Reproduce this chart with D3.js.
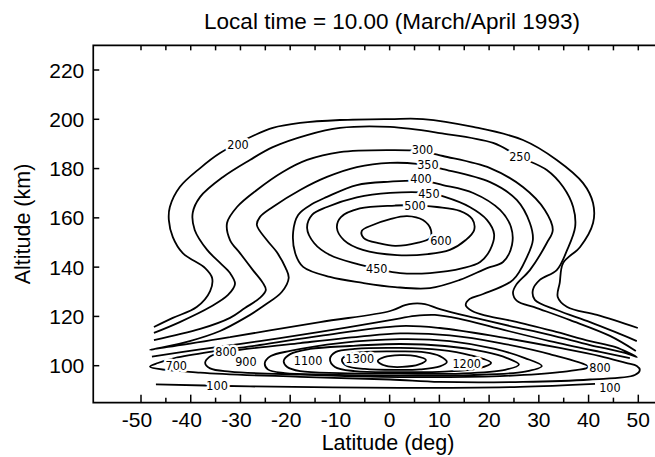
<!DOCTYPE html>
<html>
<head>
<meta charset="utf-8">
<script src="https://cdn.jsdelivr.net/npm/d3@7"></script>
<style>
body { margin: 0; background: #fff; }
svg { display: block; }
.txt { font-family: "Liberation Sans", Arial, Helvetica, sans-serif; fill: #000; }
.clabel { font-family: "DejaVu Sans Condensed", "DejaVu Sans", sans-serif; font-stretch: condensed;
  font-size: 12.5px; fill: #000; stroke: #fff; stroke-width: 5px; paint-order: stroke; stroke-linejoin: round; }
</style>
</head>
<body>
<div id="chart"></div>
<script>

/// values: [latitude (deg), altitude (km)]

const latMajor = [-50, -40, -30, -20, -10, 0, 10, 20, 30, 40, 50];
const latMinor = [-45, -35, -25, -15, -5, 5, 15, 25, 35, 45];
const latTop = [-50, -45, -40, -35, -30, -25, -20, -15, -10, -5, 0, 5, 10, 15, 20, 25, 30, 35, 40, 45, 50];
const altTicks = [100, 120, 140, 160, 180, 200, 220];
const latExtent = [-59.6, 62];
const altExtent = [85, 230];

// open lines (upper region, S shaped on both flanks)
const c200 = [[-47.4,115.7],[-43.6,119.4],[-38.8,123.8],[-36.1,130.3],[-35.7,135.6],[-37.1,139.6],[-41.6,145.7],[-43.6,152.2],[-44.4,159.1],[-44.2,164.4],[-42.2,172.5],[-38.1,180.2],[-34.1,186.3],[-27.1,193.6],[-23.5,196.5],[-18.0,198.5],[-10.0,199.7],[0.1,200.1],[6.7,200.1],[16.8,196.9],[26.8,191.6],[33.6,183.5],[38.9,174.1],[40.9,166.0],[40.9,157.9],[38.3,148.2],[34.9,141.7],[34.2,133.6],[33.8,127.9],[35.7,123.8],[41.7,120.6],[49.9,115.3]];
const c250 = [[-47.4,113.3],[-42.2,117.7],[-36.1,123.8],[-32.5,128.7],[-31.1,133.2],[-32.1,137.6],[-34.1,141.7],[-36.7,147.0],[-39.2,155.1],[-39.6,162.0],[-38.1,168.5],[-33.5,176.6],[-28.1,183.5],[-23.5,188.7],[-16.6,193.6],[-10.0,196.5],[0.1,196.9],[10.1,194.4],[20.8,190.4],[26.2,184.7],[31.6,179.4],[34.9,172.5],[36.9,164.4],[37.3,156.3],[35.7,147.0],[33.6,138.8],[30.2,134.8],[28.8,130.7],[29.2,126.7],[33.6,122.6],[40.3,117.7],[45.3,113.7],[49.7,110.0]];
const c300 = [[-47.4,110.4],[-38.1,114.9],[-32.1,119.4],[-29.1,123.4],[-26.1,127.5],[-24.9,130.7],[-25.5,133.6],[-27.5,138.8],[-30.1,145.7],[-32.1,151.0],[-32.7,157.9],[-30.7,164.4],[-26.7,171.3],[-21.5,178.6],[-16.6,183.5],[-10.0,186.7],[0.1,187.5],[6.1,187.1],[10.7,185.1],[20.2,180.2],[26.8,172.5],[31.2,163.2],[32.8,155.1],[31.6,149.8],[28.2,138.8],[25.4,132.7],[24.8,129.5],[25.6,126.3],[29.6,123.4],[36.3,118.5],[44.3,112.1],[49.5,106.0]];
// 350 runs along the top of the lower region and closes round the saddle
const c350 = [[-48.2,106.4],[-32.1,111.6],[-14.0,117.7],[0.1,122.2],[3.1,124.6],[4.7,125.2],[7.1,125.0],[10.1,123.0],[17.2,119.4],[24.2,116.1],[32.2,112.5],[40.3,108.4],[47.3,105.2],[49.7,103.5],[45.3,107.6],[40.3,110.0],[32.8,114.1],[24.8,118.1],[19.6,120.2],[16.6,122.2],[15.3,124.6],[16.1,127.1],[18.8,129.1],[24.8,134.8],[27.6,144.1],[28.8,151.0],[28.2,157.9],[25.6,167.2],[20.2,174.5],[10.7,179.8],[5.5,181.9],[0.1,182.3],[-6.6,180.6],[-12.6,176.6],[-18.0,171.3],[-23.5,164.4],[-26.1,160.3],[-26.7,157.1],[-24.7,151.0],[-22.7,146.1],[-20.9,139.6],[-20.3,135.6],[-21.7,129.9],[-25.1,124.6],[-29.1,119.4],[-34.1,114.1],[-40.2,110.0],[-46.2,107.2]];

// closed rings round the upper maximum
const ring400 = [[0.1,174.7],[6.7,175.0],[10.7,173.3],[16.8,170.1],[22.2,163.2],[24.4,156.3],[24.6,149.0],[22.8,142.1],[19.6,139.6],[14.1,134.8],[8.1,131.5],[1.1,131.9],[-5.4,133.6],[-12.0,136.0],[-17.4,140.1],[-19.0,145.7],[-19.4,154.3],[-18.4,161.2],[-15.6,165.6],[-12.6,168.5],[-6.6,173.3]];
const ring450 = [[0.1,170.1],[7.7,170.1],[11.1,168.5],[16.1,164.4],[19.6,159.1],[21.0,153.4],[20.2,147.0],[18.2,142.1],[14.7,139.6],[8.1,137.6],[2.1,137.6],[-2.6,139.4],[-6.6,141.3],[-12.0,144.9],[-15.2,149.8],[-16.6,155.9],[-15.6,161.2],[-12.6,164.4],[-6.6,168.3]];
const ring500 = [[1.1,165.0],[5.1,165.2],[9.5,164.4],[14.1,162.8],[16.6,159.5],[17.0,155.1],[15.3,151.0],[12.1,147.0],[7.7,145.3],[1.5,144.9],[-5.4,147.0],[-9.2,151.0],[-10.6,155.9],[-9.8,160.3],[-6.0,163.8]];
const ring600 = [[-3.4,157.1],[0.1,159.5],[3.5,160.7],[6.7,159.1],[8.3,155.1],[8.1,151.8],[5.5,149.8],[1.1,148.6],[-2.0,149.6],[-5.2,151.8],[-5.6,154.7]];

// lower region
const wedge = [[-47.8,103.7],[-38.1,106.6],[-26.1,110.0],[-14.0,113.7],[0.1,118.5],[5.1,120.2],[9.1,120.6],[14.1,119.0],[22.2,114.9],[32.2,110.0],[42.3,105.6],[48.3,103.1]];
const loop700 = [[-48.2,99.6],[-46.6,101.1],[-43.2,103.1],[-35.5,105.8],[-26.1,108.4],[-14.0,112.1],[2.1,116.1],[10.1,115.3],[22.2,111.6],[34.2,107.2],[42.3,103.9],[47.5,101.1],[49.7,99.9],[50.3,98.3],[49.3,96.2],[40.3,94.4],[26.8,93.4],[10.1,93.4],[0.1,94.4],[-18.0,95.5],[-38.1,97.2]];
const ring800 = [[-37.1,101.1],[-36.3,103.5],[-34.5,105.0],[-30.1,106.4],[-18.0,109.2],[-6.0,111.8],[2.1,113.1],[12.1,112.3],[22.2,109.2],[32.2,104.7],[39.9,99.5],[34.2,97.4],[22.2,95.8],[2.1,95.4],[-18.0,96.4],[-32.1,97.6],[-36.1,98.9]];
const ring1000 = [[-25.1,101.1],[-23.9,103.9],[-20.0,106.0],[-10.0,109.2],[2.1,110.8],[12.1,110.0],[21.2,106.8],[27.2,103.1],[30.6,99.9],[27.2,97.6],[16.1,96.2],[2.1,96.0],[-12.0,96.4],[-21.1,97.0],[-24.5,98.5]];
const ring1100 = [[-21.3,101.9],[-20.0,104.7],[-16.0,106.8],[-8.0,108.0],[2.1,108.8],[11.1,108.0],[19.2,105.6],[23.6,103.1],[26.0,100.5],[23.2,98.3],[14.1,96.8],[2.1,96.8],[-10.0,97.0],[-18.0,97.8],[-20.6,99.5]];
const ring1200 = [[-12.0,102.7],[-10.8,105.6],[-7.0,106.8],[2.1,107.2],[10.1,106.4],[16.1,104.3],[20.4,101.1],[17.8,98.9],[11.1,97.6],[2.1,97.4],[-7.0,97.8],[-11.0,99.5]];
const ring1300 = [[-9.6,102.3],[-8.4,104.5],[-5.0,105.6],[2.1,105.8],[7.1,105.4],[10.1,103.9],[11.5,101.5],[10.1,99.7],[6.1,98.5],[1.1,98.3],[-5.0,98.7],[-8.6,99.9]];
const ring1400 = [[-2.4,101.9],[-1.1,103.5],[2.1,104.3],[5.3,103.9],[7.3,102.3],[5.9,100.5],[2.5,99.5],[-0.7,99.9]];
const c100 = [[-47.0,92.4],[-28.1,91.6],[2.1,91.0],[26.2,91.4],[41.3,92.6]];

const labelText = ["200","250","300","350","400","450","500","600","450","700","800","900","1100","1300","1200","800","100","100"];
const labelLat  = [-30.5, 26.2, 6.6, 7.7, 6.3, 7.9, 5.1, 10.3, -2.6, -42.9, -32.9, -28.9, -16.4, -6.0, 15.5, 42.3, -34.7, 44.3];
const labelAlt  = [189.9, 184.7, 187.8, 181.7, 175.8, 170.0, 165.2, 151.0, 139.4, 99.9, 105.7, 101.6, 102.3, 103.0, 101.0, 99.3, 91.8, 91.2];

///////////////////////////////////////////////////////////////////////////////

const width = 655, height = 457;

const svg = d3.select("#chart").append("svg")
  .attr("width", width)
  .attr("height", height);

const x = d3.scaleLinear().domain([-50, 50]).range([141, 638.3]);
const y = d3.scaleLinear().domain([100, 220]).range([365.7, 70]);

// frame (right side runs off the picture)
svg.append("path")
  .attr("d", `M${x(latExtent[1])},${y(altExtent[1])}H${x(latExtent[0])}V${y(altExtent[0])}H${x(latExtent[1])}`)
  .attr("fill", "none")
  .attr("stroke", "#000")
  .attr("stroke-width", 1.7);

// ticks, all pointing inward
svg.selectAll("line.bmaj").data(latMajor).enter().append("line")
  .attr("class", "bmaj")
  .attr("x1", d => x(d)).attr("x2", d => x(d))
  .attr("y1", y(altExtent[0])).attr("y2", y(altExtent[0]) - 8)
  .attr("stroke", "#000").attr("stroke-width", 1.5);

svg.selectAll("line.bmin").data(latMinor).enter().append("line")
  .attr("class", "bmin")
  .attr("x1", d => x(d)).attr("x2", d => x(d))
  .attr("y1", y(altExtent[0])).attr("y2", y(altExtent[0]) - 5)
  .attr("stroke", "#000").attr("stroke-width", 1.5);

svg.selectAll("line.top").data(latTop).enter().append("line")
  .attr("class", "top")
  .attr("x1", d => x(d)).attr("x2", d => x(d))
  .attr("y1", y(altExtent[1])).attr("y2", y(altExtent[1]) + 5)
  .attr("stroke", "#000").attr("stroke-width", 1.5);

svg.selectAll("line.left").data(altTicks).enter().append("line")
  .attr("class", "left")
  .attr("x1", x(latExtent[0])).attr("x2", x(latExtent[0]) + 6)
  .attr("y1", d => y(d)).attr("y2", d => y(d))
  .attr("stroke", "#000").attr("stroke-width", 1.5);

// tick labels
svg.selectAll("text.xl").data(latMajor).enter().append("text")
  .attr("class", "xl txt")
  .attr("x", d => x(d) + (d < 0 ? -4 : 0))
  .attr("y", 427)
  .attr("font-size", 21)
  .attr("text-anchor", "middle")
  .text(d => String(d));

svg.selectAll("text.yl").data(altTicks).enter().append("text")
  .attr("class", "yl txt")
  .attr("x", x(latExtent[0]) - 9)
  .attr("y", d => y(d))
  .attr("dy", "0.36em")
  .attr("font-size", 21)
  .attr("text-anchor", "end")
  .text(d => d);

// titles
svg.append("text").attr("class", "txt")
  .attr("x", 392).attr("y", 29)
  .attr("font-size", 22.5)
  .attr("text-anchor", "middle")
  .text("Local time = 10.00 (March/April 1993)");

svg.append("text").attr("class", "txt")
  .attr("x", 388).attr("y", 450)
  .attr("font-size", 21.5)
  .attr("text-anchor", "middle")
  .text("Latitude (deg)");

svg.append("text").attr("class", "txt")
  .attr("transform", "translate(30,224) rotate(-90)")
  .attr("font-size", 21.5)
  .attr("text-anchor", "middle")
  .text("Altitude (km)");

// contours
const openLine = d3.line()
  .x(d => x(d[0])).y(d => y(d[1]))
  .curve(d3.curveCatmullRom.alpha(0.5));

const closedLine = d3.line()
  .x(d => x(d[0])).y(d => y(d[1]))
  .curve(d3.curveCatmullRomClosed.alpha(0.5));

const openSet = [c200, c250, c300, wedge, c100];
const closedSet = [c350, ring400, ring450, ring500, ring600, loop700, ring800, ring1000, ring1100, ring1200, ring1300, ring1400];

svg.selectAll("path.open").data(openSet).enter().append("path")
  .attr("class", "open")
  .attr("d", openLine)
  .attr("fill", "none").attr("stroke", "#000").attr("stroke-width", 1.8);

svg.selectAll("path.closed").data(closedSet).enter().append("path")
  .attr("class", "closed")
  .attr("d", closedLine)
  .attr("fill", "none").attr("stroke", "#000").attr("stroke-width", 1.8);

// contour labels, white halo breaks the line under them
svg.selectAll("text.clabel").data(labelText).enter().append("text")
  .attr("class", "clabel")
  .attr("x", (d, i) => x(labelLat[i]))
  .attr("y", (d, i) => y(labelAlt[i]))
  .attr("dy", "0.36em")
  .attr("text-anchor", "middle")
  .text(d => d);

</script>
</body>
</html>
